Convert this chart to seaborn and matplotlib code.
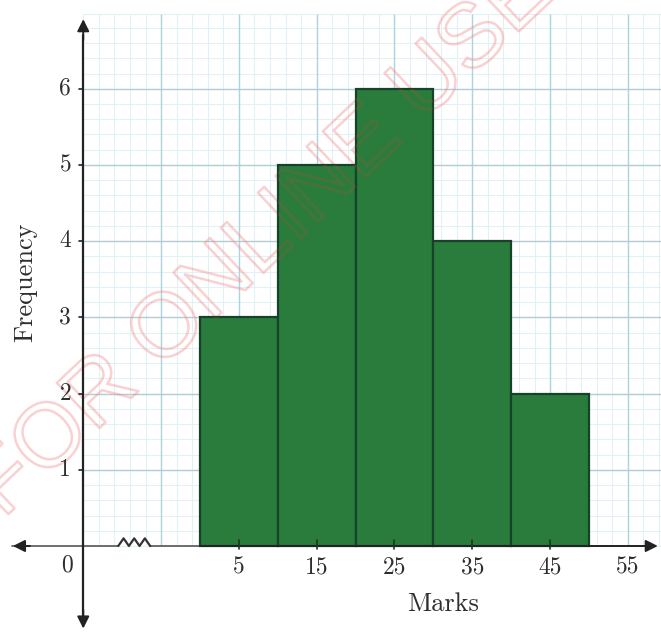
import numpy as np
import matplotlib
matplotlib.use("Agg")
import matplotlib.pyplot as plt
import matplotlib.patheffects as pe
import seaborn as sns

# Class intervals of marks and their frequencies
bin_edges = [0, 10, 20, 30, 40, 50]
class_marks = [5, 15, 25, 35, 45]
frequencies = [3, 5, 6, 4, 2]

x_tick_labels = ["5", "15", "25", "35", "45", "55"]
x_tick_values = [5, 15, 25, 35, 45, 55]
y_tick_values = [1, 2, 3, 4, 5, 6]

sns.set_theme(style="white")
plt.rcParams["font.family"] = ["cmr10", "DejaVu Serif"]

fig = plt.figure(figsize=(6.61, 6.34), dpi=100)
ax = fig.add_axes([0, 0, 1, 1])
ax.set_xlim(-25.7, 59.25)
ax.set_ylim(-1.155, 7.165)

# Graph-paper grid (the broken axis origin sits at x = -15)
x0 = -15
grid_top = 6.98
grid_right = 60
minor_c = "#e2f1f5"
major_c = "#abd4de"
for xv in np.arange(x0, grid_right + 0.01, 2):
    ax.vlines(xv, 0, grid_top, color=minor_c, lw=0.8, zorder=0)
for yv in np.arange(0, grid_top, 0.2):
    ax.hlines(yv, x0, grid_right, color=minor_c, lw=0.8, zorder=0)
for xv in np.arange(-5, grid_right, 10):
    ax.vlines(xv, 0, grid_top, color=major_c, lw=1.0, zorder=0.5)
for yv in range(1, 7):
    ax.hlines(yv, x0, grid_right, color="#b4cdd4", lw=1.0, zorder=0.5)
ax.hlines(grid_top, x0, grid_right, color=minor_c, lw=0.8, zorder=0)

# Histogram
sns.histplot(x=class_marks, weights=frequencies, bins=bin_edges,
             color="#2a7c3d", edgecolor="#16422a", linewidth=1.6,
             alpha=1, ax=ax, zorder=2)
bars = list(ax.patches)

ax.set_xlim(-25.7, 59.25)
ax.set_ylim(-1.155, 7.165)
ax.set_axis_off()

axis_c = "#222222"
# x axis with arrowheads and a break zigzag
ax.plot([-10.5, -24.2], [0, 0], color="#555555", lw=1.2, zorder=3)
ax.plot([-6.4, 0], [0, 0], color="#555555", lw=1.2, zorder=3)
ax.plot([0, 57], [0, 0], color=axis_c, lw=1.4, zorder=3)
ax.annotate("", xy=(59.2, 0), xytext=(56.5, 0),
            arrowprops=dict(arrowstyle="-|>", color=axis_c, lw=1.4,
                            mutation_scale=18), zorder=4)
ax.annotate("", xy=(-24.4, 0), xytext=(-21.5, 0),
            arrowprops=dict(arrowstyle="-|>", color=axis_c, lw=1.4,
                            mutation_scale=18), zorder=4)
zx = np.linspace(-10.5, -6.4, 7)
zy = [0, 0.1, 0, 0.1, 0, 0.1, 0]
ax.plot(zx, zy, color="#333333", lw=1.6, zorder=4)

# y axis with arrowheads
ax.plot([x0, x0], [-0.95, 6.7], color=axis_c, lw=1.6, zorder=3)
ax.annotate("", xy=(x0, 6.95), xytext=(x0, 6.6),
            arrowprops=dict(arrowstyle="-|>", color=axis_c, lw=1.4,
                            mutation_scale=18), zorder=4)
ax.annotate("", xy=(x0, -1.12), xytext=(x0, -0.8),
            arrowprops=dict(arrowstyle="-|>", color=axis_c, lw=1.4,
                            mutation_scale=18), zorder=4)

# Tick marks and labels
for xv in x_tick_values[:-1]:
    ax.plot([xv, xv], [-0.04, 0.08], color="#163a22", lw=1.2, zorder=3)
for xv, lab in zip(x_tick_values, x_tick_labels):
    ax.text(xv, -0.28, lab, ha="center", va="center", fontsize=17,
            color="#2e2e2e", zorder=5)
for yv in y_tick_values:
    ax.plot([x0 - 0.5, x0], [yv, yv], color=axis_c, lw=1.2, zorder=3)
    ax.text(-17.3, yv, str(yv), ha="center", va="center", fontsize=17,
            color="#2e2e2e", zorder=5)
ax.text(-17.1, -0.25, "0", ha="center", va="center", fontsize=17,
        color="#2e2e2e", zorder=5)

ax.text(31.3, -0.76, "Marks", ha="center", va="center", fontsize=19,
        color="#2e2e2e", zorder=5)
ax.text(-22.5, 3.46, "Frequency", ha="center", va="center", fontsize=19,
        rotation=90, color="#2e2e2e", zorder=5)

# Watermark: pink outline on paper, only a faint trace over the bars
wm = dict(s="FOR ONLINE USE", ha="center", va="baseline", rotation=43.4,
          rotation_mode="anchor", fontsize=65, family="Liberation Sans",
          color=(1, 1, 1, 0))
ax.text(10.3, 3.79, zorder=1.5,
        path_effects=[pe.withStroke(linewidth=1.8,
                                    foreground=(0.95, 0.55, 0.55, 0.4))],
        **wm)
for bar in bars:
    t = ax.text(10.3, 3.79, zorder=2.5, clip_on=True,
                path_effects=[pe.withStroke(linewidth=2.0,
                                            foreground=(0.6, 0.35, 0.2, 0.28))],
                **wm)
    t.set_clip_path(bar)

fig.savefig("out.png", dpi=100)
